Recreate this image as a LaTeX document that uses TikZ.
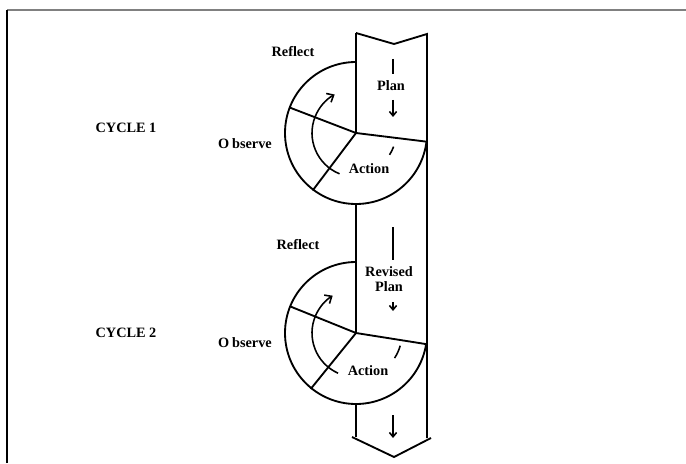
\documentclass[tikz,border=0pt]{standalone}
\usepackage{fontspec}
\setmainfont{Liberation Serif}
\usetikzlibrary{calc,arrows.meta}

\begin{document}
\begin{tikzpicture}[x=0.7pt, y=0.7pt, line width=1.3pt,
        txt/.style={font=\bfseries\fontsize{10}{11}\selectfont, inner sep=0pt, align=center},
        turn/.style={line width=1.1pt, -{Straight Barb[length=4pt,width=7pt]}},
        down/.style={line width=1.1pt, -{Straight Barb[length=3pt,width=5pt]}},
        bar/.style={line width=2pt}]
            % frame
            \path[use as bounding box](0,0)rectangle(686,463);
            \path[draw, gray, line width=1.4pt](7,453)to(686,453);
            \path[draw, line width=1.4pt](7,0)to(7,453);
            % band
            \coordinate(TL)at(356,430);
            \coordinate(TV)at(394,419);
            \coordinate(TR)at(427,429);
            \coordinate(BL)at(356,26);
            \coordinate(BR)at(427,25);
            \coordinate(HL)at(352,26);
            \coordinate(HV)at(394,6);
            \coordinate(HR)at(431,25);
            \path[draw](TL)to(TV)to(TR)to(BR);
            \path[draw](HL)to(HV)to(HR);
            % cycle 1
            \coordinate(C1)at(356,330);
            \coordinate(R1)at($(C1)+(353:71)$);
            \coordinate(U1)at($(C1)+(159:71)$);
            \coordinate(L1)at($(C1)+(233:72)$);
            \coordinate(S1)at($(C1)+(270:71)$);
            \path[draw](TL)to(C1);
            \path[draw](C1)++(90:71)arc[start angle=90, end angle=353, radius=71];
            \path[draw](R1)to(C1)to(U1);
            \path[draw](C1)to(L1);
            \path[draw, turn](C1)++(248:44)arc[start angle=248, end angle=119, radius=44];
            \path[draw, line width=1.1pt](C1)++(-20:40)arc[start angle=-20, end angle=-33, radius=40];
            % cycle 2
            \coordinate(C2)at(356,130);
            \coordinate(R2)at($(C2)+(351:71)$);
            \coordinate(U2)at($(C2)+(158:71)$);
            \coordinate(L2)at($(C2)+(231:72)$);
            \coordinate(S2)at($(C2)+(270:71)$);
            \path[draw](S1)to(C2);
            \path[draw](C2)++(90:71)arc[start angle=90, end angle=351, radius=71];
            \path[draw](R2)to(C2)to(U2);
            \path[draw](C2)to(L2);
            \path[draw](S2)to(BL);
            \path[draw, turn](C2)++(246:44)arc[start angle=246, end angle=122, radius=44];
            \path[draw, line width=1.1pt](C2)++(-16:46)arc[start angle=-16, end angle=-33, radius=46];
            % plan arrows
            \path[draw, bar](393,404)to(393,389);
            \node[txt](plan1)at(391,377){Plan};
            \path[draw, down](393,363)to(393,346);
            \path[draw, bar](393,236)to(393,203);
            \node[txt](plan2)at(389,184){Revised\\Plan};
            \path[draw, down](393,161)to(393,152);
            \path[draw, down](393,48)to(393,25);
            % labels
            \node[txt](cyc1)at(126,335){CYCLE 1};
            \node[txt](cyc2)at(126,130){CYCLE 2};
            \node[txt](refl1)at(293,411){Reflect};
            \node[txt](refl2)at(298,218){Reflect};
            \node[txt](obs1)at(245,319){O\kern2pt bserve};
            \node[txt](obs2)at(245,120){O\kern2pt bserve};
            \node[txt](act1)at(369,294){Action};
            \node[txt](act2)at(368,92){Action};
        \end{tikzpicture}
\end{document}
